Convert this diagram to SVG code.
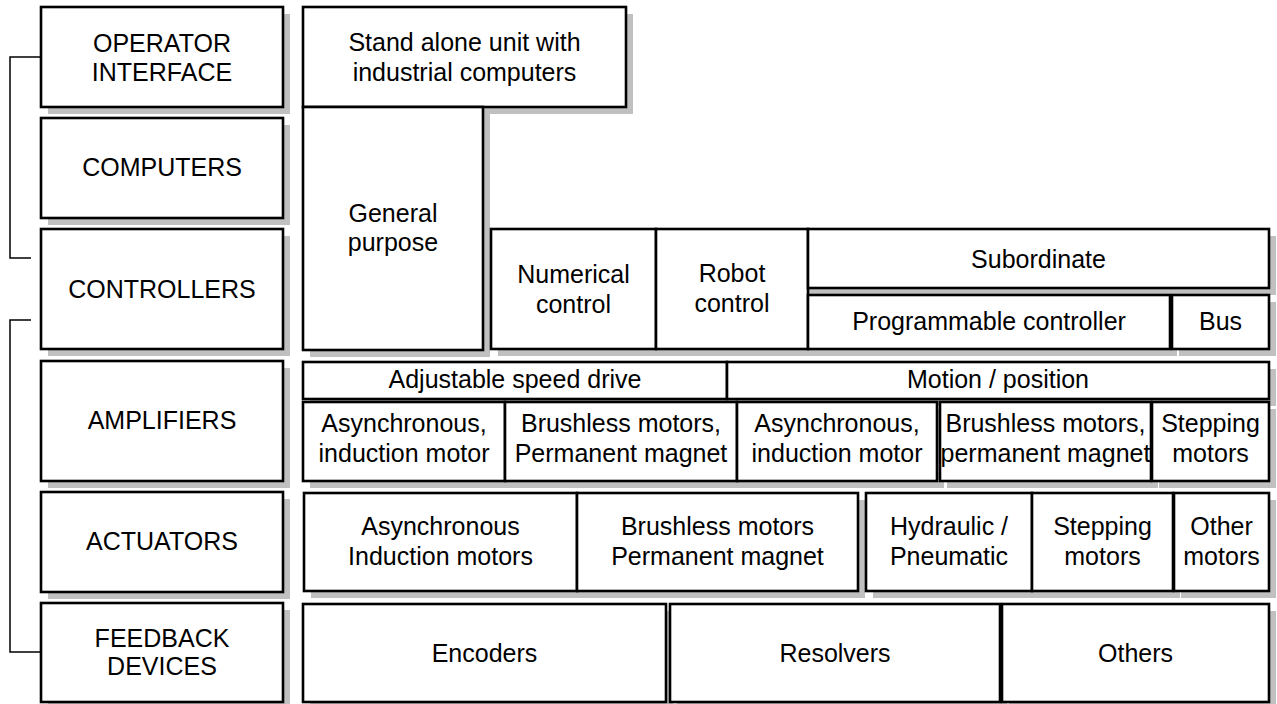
<svg xmlns="http://www.w3.org/2000/svg" width="1277" height="704" viewBox="0 0 1277 704">
<style>
.s{fill:#c0c0c0;stroke:none}
.b{fill:#fff;stroke:#000;stroke-width:2.6}
text{font-family:"Liberation Sans",Arial,sans-serif;font-size:25px;fill:#000;text-anchor:middle}
.c{fill:none;stroke:#000;stroke-width:1.5}
</style>
<rect width="1277" height="704" fill="#fff"/>
<g id="connectors">
<path class="c" d="M41,57 H10 V258 H31"/>
<path class="c" d="M31,320 H10 V652 H41"/>
</g>
<g id="operator-interface"><rect class="s" x="48" y="14" width="242" height="100"/><rect class="b" x="41" y="7" width="242" height="100"/><text x="162" y="52">OPERATOR</text><text x="162" y="81">INTERFACE</text></g>
<g id="computers"><rect class="s" x="48" y="125" width="242" height="100"/><rect class="b" x="41" y="118" width="242" height="100"/><text x="162" y="176">COMPUTERS</text></g>
<g id="controllers"><rect class="s" x="48" y="236" width="242" height="120"/><rect class="b" x="41" y="229" width="242" height="120"/><text x="162" y="298">CONTROLLERS</text></g>
<g id="amplifiers"><rect class="s" x="48" y="368" width="242" height="120"/><rect class="b" x="41" y="361" width="242" height="120"/><text x="162" y="429">AMPLIFIERS</text></g>
<g id="actuators"><rect class="s" x="48" y="499" width="242" height="100"/><rect class="b" x="41" y="492" width="242" height="100"/><text x="162" y="550">ACTUATORS</text></g>
<g id="feedback-devices"><rect class="s" x="48" y="610" width="242" height="99"/><rect class="b" x="41" y="603" width="242" height="99"/><text x="162" y="647">FEEDBACK</text><text x="162" y="675">DEVICES</text></g>

<g id="stand-alone"><rect class="s" x="310" y="14" width="323" height="100"/><rect class="b" x="303" y="7" width="323" height="100"/><text x="464.5" y="51">Stand alone unit with</text><text x="464.5" y="81">industrial computers</text></g>
<g id="general-purpose"><rect class="s" x="310" y="114" width="180" height="243"/><rect class="b" x="303" y="107" width="180" height="243"/><text x="393" y="222">General</text><text x="393" y="251">purpose</text></g>
<g id="numerical-control"><rect class="s" x="498" y="236" width="165" height="120"/><rect class="b" x="491" y="229" width="165" height="120"/><text x="573.5" y="283">Numerical</text><text x="573.5" y="313">control</text></g>
<g id="robot-control"><rect class="s" x="663" y="236" width="152" height="120"/><rect class="b" x="656" y="229" width="152" height="120"/><text x="732" y="282">Robot</text><text x="732" y="312">control</text></g>
<g id="subordinate"><rect class="s" x="815" y="236" width="461" height="59"/><rect class="b" x="808" y="229" width="461" height="59"/><text x="1038.5" y="268">Subordinate</text></g>
<g id="programmable-controller"><rect class="s" x="815" y="302" width="362" height="54"/><rect class="b" x="808" y="295" width="362" height="54"/><text x="989" y="330">Programmable controller</text></g>
<g id="bus"><rect class="s" x="1179" y="302" width="97" height="54"/><rect class="b" x="1172" y="295" width="97" height="54"/><text x="1220.5" y="330">Bus</text></g>

<g id="adjustable-speed-drive"><rect class="s" x="310" y="369" width="424" height="37"/><rect class="b" x="303" y="362" width="424" height="37"/><text x="515" y="388">Adjustable speed drive</text></g>
<g id="motion-position"><rect class="s" x="734" y="369" width="542" height="37"/><rect class="b" x="727" y="362" width="542" height="37"/><text x="998" y="388">Motion / position</text></g>
<g id="amp-async"><rect class="s" x="310" y="409" width="202" height="79"/><rect class="b" x="303" y="402" width="202" height="79"/><text x="404" y="432">Asynchronous,</text><text x="404" y="462">induction motor</text></g>
<g id="amp-brushless"><rect class="s" x="512" y="409" width="232" height="79"/><rect class="b" x="505" y="402" width="232" height="79"/><text x="621" y="432">Brushless motors,</text><text x="621" y="462">Permanent magnet</text></g>
<g id="amp-async-2"><rect class="s" x="744" y="409" width="200" height="79"/><rect class="b" x="737" y="402" width="200" height="79"/><text x="837" y="432">Asynchronous,</text><text x="837" y="462">induction motor</text></g>
<g id="amp-brushless-2"><rect class="s" x="947" y="409" width="211" height="79"/><rect class="b" x="940" y="402" width="211" height="79"/><text x="1045.5" y="432">Brushless motors,</text><text x="1045.5" y="462">permanent magnet</text></g>
<g id="amp-stepping"><rect class="s" x="1159" y="409" width="117" height="79"/><rect class="b" x="1152" y="402" width="117" height="79"/><text x="1210.5" y="432">Stepping</text><text x="1210.5" y="462">motors</text></g>

<g id="act-async"><rect class="s" x="311" y="500" width="273" height="98"/><rect class="b" x="304" y="493" width="273" height="98"/><text x="440.5" y="535">Asynchronous</text><text x="440.5" y="565">Induction motors</text></g>
<g id="act-brushless"><rect class="s" x="584" y="500" width="281" height="98"/><rect class="b" x="577" y="493" width="281" height="98"/><text x="717.5" y="535">Brushless motors</text><text x="717.5" y="565">Permanent magnet</text></g>
<g id="act-hydraulic"><rect class="s" x="873" y="500" width="166" height="98"/><rect class="b" x="866" y="493" width="166" height="98"/><text x="949" y="535">Hydraulic /</text><text x="949" y="565">Pneumatic</text></g>
<g id="act-stepping"><rect class="s" x="1039" y="500" width="141" height="98"/><rect class="b" x="1032" y="493" width="141" height="98"/><text x="1102.5" y="535">Stepping</text><text x="1102.5" y="565">motors</text></g>
<g id="act-other"><rect class="s" x="1181" y="500" width="95" height="98"/><rect class="b" x="1174" y="493" width="95" height="98"/><text x="1221.5" y="535">Other</text><text x="1221.5" y="565">motors</text></g>

<g id="encoders"><rect class="s" x="310" y="611" width="363" height="98"/><rect class="b" x="303" y="604" width="363" height="98"/><text x="484.5" y="662">Encoders</text></g>
<g id="resolvers"><rect class="s" x="677" y="611" width="330" height="98"/><rect class="b" x="670" y="604" width="330" height="98"/><text x="835" y="662">Resolvers</text></g>
<g id="others"><rect class="s" x="1009" y="611" width="267" height="98"/><rect class="b" x="1002" y="604" width="267" height="98"/><text x="1135.5" y="662">Others</text></g>
</svg>
